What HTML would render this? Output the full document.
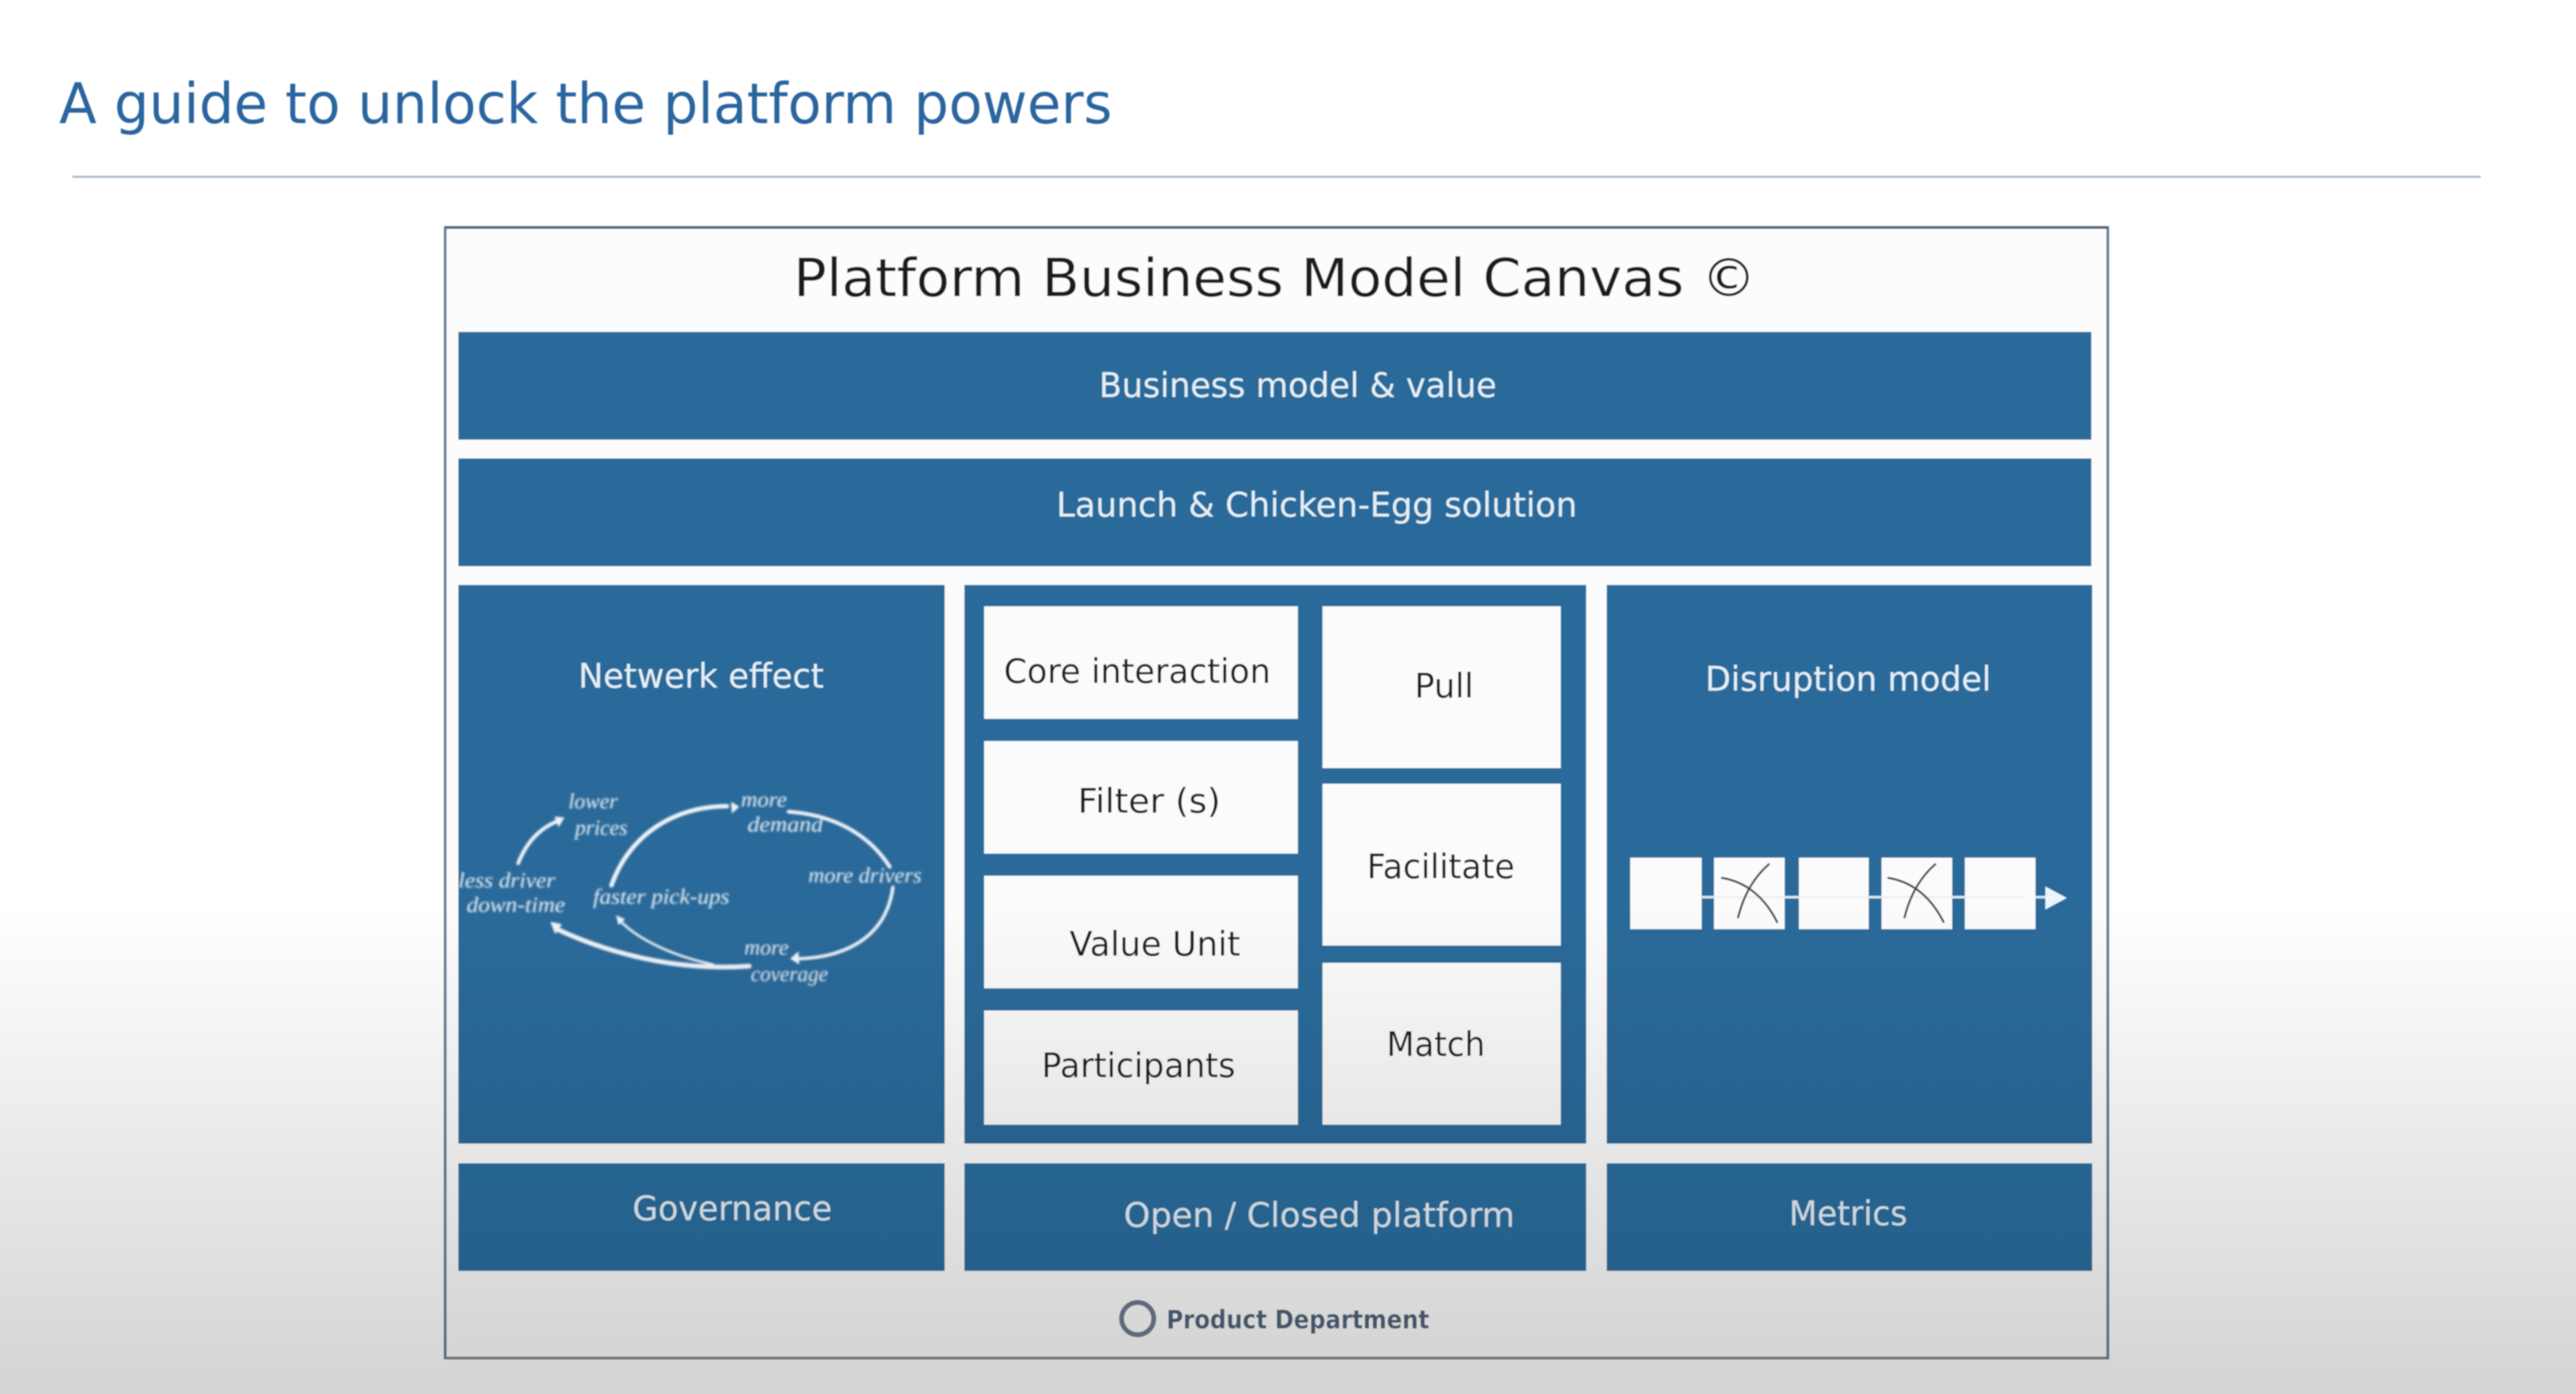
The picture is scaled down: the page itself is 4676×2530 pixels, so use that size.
<!DOCTYPE html>
<html lang="en">
<head>
<meta charset="utf-8">
<title>A guide to unlock the platform powers</title>
<style>
html,body{margin:0;padding:0;background:#fff;width:4676px;height:2530px;overflow:hidden}
svg{display:block}
text{font-family:"DejaVu Sans","Liberation Sans",sans-serif}
.w{fill:#e3eff7;font-size:20.5px}
.k{fill:#1d1d1d;font-size:20.5px}
.h{font-family:"Liberation Serif",serif;font-style:italic;fill:#e6f0f7;font-size:13px}
.b{fill:#2a6a9a}
.b2{fill:#2c6e9f}
.c{fill:#fbfbfb}
.a{fill:none;stroke:#eef4f9;stroke-linecap:round}
.x{fill:none;stroke:#4a4a4a;stroke-width:1.3;stroke-linecap:round}
</style>
</head>
<body>
<svg width="4676" height="2530" viewBox="0 0 1568 848.4" xmlns="http://www.w3.org/2000/svg">
<defs>
<linearGradient id="fade" x1="0" y1="0" x2="0" y2="1">
<stop offset="0" stop-color="#000" stop-opacity="0"/>
<stop offset="1" stop-color="#000" stop-opacity=".17"/>
</linearGradient>
<filter id="soft" x="-2%" y="-2%" width="104%" height="104%"><feGaussianBlur stdDeviation=".4"/></filter>
<filter id="soft2" x="-5%" y="-5%" width="110%" height="110%"><feGaussianBlur stdDeviation=".55"/></filter>
</defs>
<rect width="1568" height="848.4" fill="#fff"/>
<g filter="url(#soft)">
<text x="36" y="75" font-size="34" fill="#2b659f" textLength="641" lengthAdjust="spacingAndGlyphs">A guide to unlock the platform powers</text>
<rect x="44" y="107" width="1466" height="1.2" fill="#a9b7c9"/>

<rect x="271" y="138.5" width="1012" height="688" fill="#fcfcfc" stroke="#5f7d9b" stroke-width="1.6"/>
<line x1="271" y1="138.3" x2="1283" y2="138.3" stroke="#4f5f70" stroke-width="1.2"/>
<line x1="271" y1="826.5" x2="1283" y2="826.5" stroke="#7c8288" stroke-width="1.4"/>
<text x="483" y="180.3" font-size="32" fill="#1d1d1d" textLength="586" lengthAdjust="spacingAndGlyphs">Platform Business Model Canvas ©</text>

<rect class="b" x="279" y="202" width="994" height="65.6"/>
<rect class="b" x="279" y="279" width="994" height="65.6"/>
<rect class="b" x="279" y="356" width="296" height="340"/>
<rect class="b" x="587" y="356" width="378.5" height="340"/>
<rect class="b" x="978" y="356" width="295.5" height="340"/>
<rect class="b2" x="279" y="708" width="296" height="65.5"/>
<rect class="b2" x="587" y="708" width="378.5" height="65.5"/>
<rect class="b2" x="978" y="708" width="295.5" height="65.5"/>

<text class="w" x="669" y="241.6" textLength="242" lengthAdjust="spacingAndGlyphs">Business model &amp; value</text>
<text class="w" x="643" y="314.3" textLength="317" lengthAdjust="spacingAndGlyphs">Launch &amp; Chicken-Egg solution</text>
<text class="w" x="352" y="418.5" textLength="149.5" lengthAdjust="spacingAndGlyphs">Netwerk effect</text>
<text class="w" x="1038" y="420.4" textLength="174" lengthAdjust="spacingAndGlyphs">Disruption model</text>
<text class="w" x="385" y="742.6" textLength="121.5" lengthAdjust="spacingAndGlyphs">Governance</text>
<text class="w" x="684" y="746.6" textLength="238" lengthAdjust="spacingAndGlyphs">Open / Closed platform</text>
<text class="w" x="1089" y="745.6" textLength="72" lengthAdjust="spacingAndGlyphs">Metrics</text>

<rect class="c" x="599" y="369" width="191" height="68.5"/>
<rect class="c" x="599" y="451" width="191" height="68.5"/>
<rect class="c" x="599" y="533" width="191" height="68.5"/>
<rect class="c" x="599" y="615" width="191" height="69.5"/>
<rect class="c" x="805" y="369" width="145" height="98.5"/>
<rect class="c" x="805" y="477" width="145" height="98.5"/>
<rect class="c" x="805" y="586" width="145" height="98.5"/>

<text class="k" x="611" y="415.6" textLength="162.5" lengthAdjust="spacingAndGlyphs">Core interaction</text>
<text class="k" x="656" y="494.6" textLength="87" lengthAdjust="spacingAndGlyphs">Filter (s)</text>
<text class="k" x="651" y="581.6" textLength="104" lengthAdjust="spacingAndGlyphs">Value Unit</text>
<text class="k" x="634" y="655.6" textLength="118" lengthAdjust="spacingAndGlyphs">Participants</text>
<text class="k" x="861" y="424.6" textLength="36" lengthAdjust="spacingAndGlyphs">Pull</text>
<text class="k" x="832" y="534.6" textLength="90" lengthAdjust="spacingAndGlyphs">Facilitate</text>
<text class="k" x="844" y="642.6" textLength="60" lengthAdjust="spacingAndGlyphs">Match</text>

<!-- disruption chain -->
<rect class="c" x="992.3" y="522" width="43.5" height="43.5"/>
<rect class="c" x="1043.3" y="522" width="43" height="43.5"/>
<rect class="c" x="1095" y="522" width="42.5" height="43.5"/>
<rect class="c" x="1145.3" y="522" width="43" height="43.5"/>
<rect class="c" x="1196" y="522" width="43" height="43.5"/>
<line x1="1036" y1="546" x2="1043" y2="546" stroke="#cfe4f4" stroke-width="1.6"/>
<line x1="1086" y1="546" x2="1095" y2="546" stroke="#cfe4f4" stroke-width="1.6"/>
<line x1="1137" y1="546" x2="1145" y2="546" stroke="#cfe4f4" stroke-width="1.6"/>
<line x1="1188" y1="546" x2="1196" y2="546" stroke="#cfe4f4" stroke-width="1.6"/>
<line x1="1239" y1="546" x2="1246" y2="546" stroke="#cfe4f4" stroke-width="1.6"/>
<line x1="1036" y1="546" x2="1232" y2="546" stroke="#e9e9e9" stroke-width=".8"/>
<polygon points="1245,539.5 1258,546.5 1245,553.5" fill="#eaf5fd"/>
<path class="x" d="M1048.2 534.3 Q1070 538 1081.7 561.1"/>
<path class="x" d="M1076.7 526 Q1063 538 1058 558.3"/>
<g transform="translate(101.3 0)">
<path class="x" d="M1048.2 534.3 Q1070 538 1081.7 561.1"/>
<path class="x" d="M1076.7 526 Q1063 538 1058 558.3"/>
</g>

<!-- network effect loop -->
<g filter="url(#soft2)">
<path class="a" stroke-width="2.2" d="M315.4 525.4 Q323 506 340 499.5"/>
<polygon points="343.5,497.5 337.5,497 340,503.5" fill="#eef4f9"/>
<path class="a" stroke-width="2.6" d="M372.2 538.8 C382.8 508.6 409.7 490.7 442.5 490.7"/>
<polygon points="445,488 450,491 445.5,495" fill="#eef4f9"/>
<path class="a" stroke-width="2.2" d="M480 494 C511.8 496.3 531 511 541.6 527.6"/>
<path class="a" stroke-width="2" d="M543.5 540 C538.7 575.7 506 583.5 484 583.5"/>
<polygon points="481,583.5 486,579 486.5,587" fill="#eef4f9"/>
<path class="a" stroke-width="2.8" d="M456 588 C409.7 591.3 367.4 579 338 565"/>
<polygon points="335,561 342,562.5 338,568.5" fill="#eef4f9"/>
<path class="a" stroke-width="1.4" d="M434 587 C406 581 386.6 570 377 560"/>
<polygon points="375,557 380.5,559.5 376.5,563" fill="#eef4f9"/>
<text class="h" x="346" y="492" textLength="30" lengthAdjust="spacingAndGlyphs">lower</text>
<text class="h" x="350" y="508" textLength="32" lengthAdjust="spacingAndGlyphs">prices</text>
<text class="h" x="451" y="491" textLength="28" lengthAdjust="spacingAndGlyphs">more</text>
<text class="h" x="455" y="506" textLength="46" lengthAdjust="spacingAndGlyphs">demand</text>
<text class="h" x="492" y="537" textLength="69" lengthAdjust="spacingAndGlyphs">more drivers</text>
<text class="h" x="279" y="540" textLength="59" lengthAdjust="spacingAndGlyphs">less driver</text>
<text class="h" x="284" y="555" textLength="60" lengthAdjust="spacingAndGlyphs">down-time</text>
<text class="h" x="361" y="550" textLength="83" lengthAdjust="spacingAndGlyphs">faster pick-ups</text>
<text class="h" x="453" y="581" textLength="27" lengthAdjust="spacingAndGlyphs">more</text>
<text class="h" x="457" y="597" textLength="47" lengthAdjust="spacingAndGlyphs">coverage</text>
</g>

<!-- footer logo -->
<circle cx="692.5" cy="802.5" r="9.8" fill="none" stroke="#6e7b91" stroke-width="3"/>
<text x="710" y="808.5" font-size="15.5" font-weight="bold" fill="#4f627b" textLength="160" lengthAdjust="spacingAndGlyphs">Product Department</text>
</g>
<!-- video fade -->
<rect x="0" y="550" width="1568" height="298.4" fill="url(#fade)"/>
</svg>
</body>
</html>
